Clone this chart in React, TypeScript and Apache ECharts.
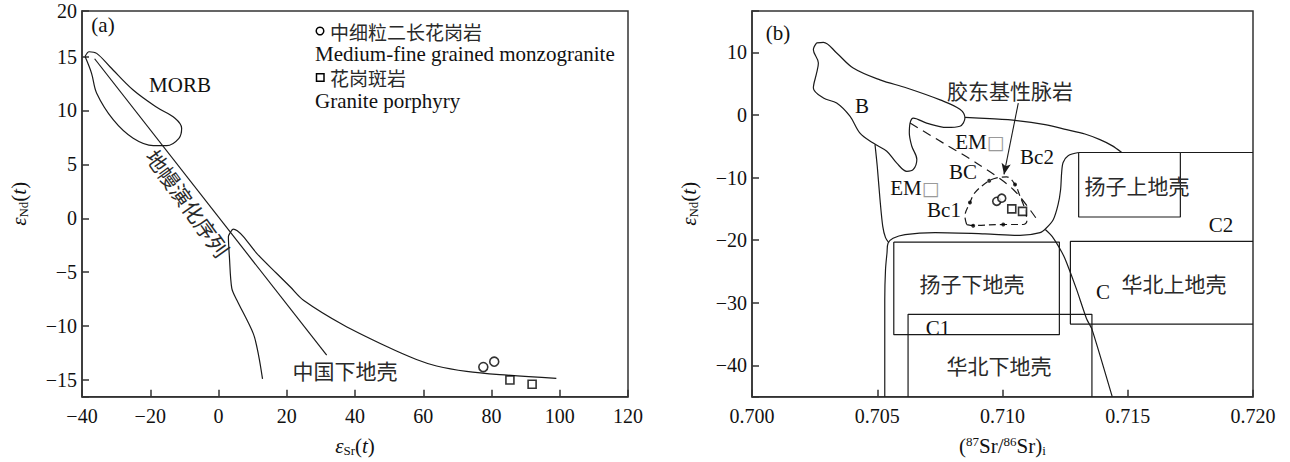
import React, { useEffect, useRef } from 'react';
import * as echarts from 'echarts';

// ---------- Panel (a): εNd(t) vs εSr(t) ----------
const morbField: number[][] = [
  [-39.1, 15.0], [-37.9, 15.45], [-35.7, 15.3], [-31.8, 14.06], [-25.0, 11.9], [-18.1, 10.3],
  [-12.75, 9.28], [-10.8, 8.35], [-11.6, 7.42], [-15.2, 6.74], [-19.1, 6.74], [-25.0, 7.42],
  [-30.8, 9.12], [-35.7, 11.6], [-37.2, 13.45], [-39.1, 15.0],
];
const mantleArray: number[][] = [[-36.3, 14.8], [31.7, -12.7]];
const lowerCrustCurve: number[][] = [
  [12.9, -14.9], [11.8, -12.8], [10.2, -10.7], [5.4, -7.6], [3.9, -6.5], [3.2, -3.6], [2.9, -1.7],
  [3.4, -1.35], [4.3, -1.0], [5.5, -1.15], [7.3, -1.7], [11.2, -3.25], [17.0, -5.1], [21.0, -6.35],
  [24.9, -7.6], [36.6, -9.9], [49.3, -11.9], [58.0, -13.1], [63.9, -13.7], [72.7, -14.2],
  [82.4, -14.5], [99.0, -14.85],
];
const esrMonzogranite = [77.6, 80.8];
const endMonzogranite = [-13.8, -13.3];
const esrPorphyry = [85.4, 91.9];
const endPorphyry = [-15.0, -15.4];

// ---------- Panel (b): εNd(t) vs (87Sr/86Sr)i ----------
const srMonzogranite = [0.70977, 0.70997];
const srPorphyry = [0.71037, 0.7108];

const fieldB: number[][] = [
  [0.70258, 11.5], [0.70285, 11.6], [0.70338, 9.9], [0.70404, 7.5], [0.70511, 5.6], [0.70618, 4.3],
  [0.70751, 2.4], [0.7083, 0.9], [0.7085, -0.5], [0.7083, -1.8], [0.70777, -2.0], [0.70697, -1.3],
  [0.70644, -0.5], [0.70631, -1.3], [0.70628, -2.9], [0.70638, -5.0], [0.70658, -7.1], [0.70644, -8.7],
  [0.70618, -9.0], [0.70578, -7.7], [0.70538, -5.8], [0.70484, -4.5], [0.70431, -2.9], [0.70391, -0.2],
  [0.70338, 1.9], [0.70285, 2.7], [0.70245, 4.3], [0.70258, 6.7], [0.70265, 8.3], [0.70245, 10.4],
  [0.70258, 11.5],
];
const envelopeTop: number[][] = [
  [0.7085, -0.4], [0.7095, -0.6], [0.71057, -0.9], [0.7117, -1.55], [0.71256, -2.35], [0.71329, -3.05],
  [0.71389, -3.95], [0.71437, -4.9], [0.71476, -6.0],
];
const envelopeRight: number[][] = [
  [0.71304, -6.0], [0.71262, -6.5], [0.71242, -7.6], [0.71236, -9.25], [0.71232, -11.9], [0.71222, -14.3],
  [0.71203, -16.7], [0.71174, -18.1], [0.7115, -18.8], [0.7107, -19.25], [0.7093, -19.0], [0.70731, -18.8],
  [0.70611, -19.1], [0.70563, -19.7], [0.70543, -20.5], [0.70539, -22.0], [0.70533, -24.7],
  [0.7053, -29.5], [0.7053, -45],
];
const envelopeLeft: number[][] = [
  [0.70491, -4.7], [0.705, -8.2], [0.70511, -13.5], [0.70522, -17.8], [0.70533, -19.6], [0.70546, -20.4],
];
const crustRightEdge: number[][] = [
  [0.71171, -18.3], [0.71198, -19.4], [0.71238, -22.0], [0.71256, -23.6], [0.71296, -27.9],
  [0.71336, -32.6], [0.71357, -34.2], [0.71438, -45],
];
const yangtzeUpper: number[][] = [[0.71304, -6.0], [0.7171, -6.0], [0.7171, -16.3], [0.71304, -16.3], [0.71304, -6.0]];
const c2Line: number[][] = [[0.7171, -6.0], [0.72, -6.0]];
const northChinaUpper: number[][] = [[0.72, -20.2], [0.71271, -20.2], [0.71271, -33.4], [0.72, -33.4]];
const yangtzeLower: number[][] = [[0.70566, -20.3], [0.71227, -20.3], [0.71227, -35.1], [0.70566, -35.1], [0.70566, -20.3]];
const northChinaLower: number[][] = [[0.70623, -45], [0.70623, -31.85], [0.71357, -31.85], [0.71357, -45]];
const emDivider: number[][] = [[0.70631, -1.3], [0.70764, -4.5], [0.70897, -7.7], [0.71043, -11.9], [0.71143, -17.0]];
const bcField: number[][] = [
  [0.70857, -17.5], [0.7085, -16.2], [0.7087, -14.0], [0.7089, -12.4], [0.70943, -10.6], [0.70977, -10.05],
  [0.71017, -9.9], [0.7105, -11.1], [0.7107, -13.0], [0.7109, -15.1], [0.71097, -17.0], [0.71083, -17.5],
  [0.71003, -17.5], [0.70883, -17.65], [0.70857, -17.5],
];
const bcDots: number[][] = [[0.7087, -14.0], [0.70947, -10.5], [0.7105, -11.1], [0.71003, -17.5], [0.70883, -17.7]];
const arrowFrom = [0.71063, 1.9];
const arrowTo = [0.71006, -9.5];

const xTicksA = { min: -40, max: 120, interval: 20 };
const yRangeA = { min: -16.55, max: 19.23 };
const xTicksB = { min: 0.7, max: 0.72, interval: 0.005 };
const yRangeB = { min: -45, max: 16.6 };

const SERIF = '"Liberation Serif", "Times New Roman", serif';
const CJK = '"Noto Sans CJK SC", sans-serif';
const INK = '#1a1a1a';

const minus = (v: number | string) => String(v).replace('-', '\u2212');

function curve(data: number[][], idx: number, extra: any = {}) {
  return {
    type: 'line',
    xAxisIndex: idx,
    yAxisIndex: idx,
    data,
    symbol: 'none',
    showSymbol: false,
    silent: true,
    lineStyle: { color: INK, width: 1.2 },
    z: 3,
    ...extra,
  };
}

function scatter(data: number[][], idx: number, symbol: string, size: number, extra: any = {}) {
  return {
    type: 'scatter',
    xAxisIndex: idx,
    yAxisIndex: idx,
    data,
    symbol,
    symbolSize: size,
    silent: true,
    itemStyle: { color: '#fff', borderColor: '#000', borderWidth: 1.6 },
    z: 5,
    ...extra,
  };
}

function label(text: string, x: number, y: number, cjk = false, extra: any = {}, rotation = 0) {
  return {
    type: 'text',
    x,
    y,
    rotation,
    silent: true,
    z: 10,
    style: {
      text,
      font: cjk ? `21px ${CJK}` : `21px ${SERIF}`,
      fill: cjk ? '#2a2a2a' : '#111',
      align: 'center',
      verticalAlign: 'middle',
      ...extra,
    },
  };
}

function emLabel(x: number, y: number) {
  return {
    type: 'text',
    x,
    y,
    silent: true,
    z: 10,
    style: {
      text: 'EM{g|\u25A1}',
      font: `21px ${SERIF}`,
      fill: '#111',
      align: 'center',
      verticalAlign: 'middle',
      rich: { g: { fill: '#9a9a9a', color: '#9a9a9a', font: `19px "DejaVu Sans", sans-serif` } },
    },
  };
}

const axisLabelStyle = { fontFamily: SERIF, fontSize: 20, color: '#111' };
const axisLineStyle = { show: true, onZero: false, lineStyle: { color: '#333', width: 1.5 } };
const tickStyle = { show: true, inside: true, length: 7, lineStyle: { color: '#333', width: 1.5 } };

const nameRich = {
  e: { fontFamily: SERIF, fontStyle: 'italic', fontSize: 21, lineHeight: 22, color: '#111' },
  n: { fontFamily: SERIF, fontSize: 21, lineHeight: 22, color: '#111' },
  s: { fontFamily: SERIF, fontSize: 13, lineHeight: 11, verticalAlign: 'bottom', color: '#111' },
  u: { fontFamily: SERIF, fontSize: 13, lineHeight: 13, verticalAlign: 'top', color: '#111' },
};

export default function App() {
  const ref = useRef<HTMLDivElement>(null);

  useEffect(() => {
    if (!ref.current) return;
    const chart = echarts.init(ref.current, null, { renderer: 'svg' });

    const option: any = {
      animation: false,
      backgroundColor: '#fff',
      grid: [
        { left: 82, top: 11, width: 546, height: 385.7, show: true, borderColor: '#333', borderWidth: 1.5, backgroundColor: 'transparent', outerBoundsMode: 'none' },
        { left: 752, top: 11, width: 501, height: 385.7, show: true, borderColor: '#333', borderWidth: 1.5, backgroundColor: 'transparent', outerBoundsMode: 'none' },
      ],
      xAxis: [
        {
          type: 'value', gridIndex: 0, ...xTicksA,
          axisLine: axisLineStyle, axisTick: tickStyle, splitLine: { show: false },
          axisLabel: { ...axisLabelStyle, margin: 9, formatter: (v: number) => minus(v) },
          name: '{e|ε}{s|Sr}{n|(}{e|t}{n|)}', nameLocation: 'middle', nameGap: 38,
          nameTextStyle: { rich: nameRich },
        },
        {
          type: 'value', gridIndex: 1, ...xTicksB,
          axisLine: axisLineStyle, axisTick: tickStyle, splitLine: { show: false },
          axisLabel: { ...axisLabelStyle, margin: 9, formatter: (v: number) => v.toFixed(3) },
          name: '{n|(}{u|87}{n|Sr/}{u|86}{n|Sr)}{s|i}', nameLocation: 'middle', nameGap: 38,
          nameTextStyle: { rich: nameRich },
        },
      ],
      yAxis: [
        {
          type: 'value', gridIndex: 0, ...yRangeA, splitNumber: 7,
          axisLine: axisLineStyle, axisTick: tickStyle, splitLine: { show: false },
          axisLabel: {
            ...axisLabelStyle, margin: 5,
            formatter: (v: number) => (v > 19 ? '20' : v < -16 ? '' : minus(v)),
          },
          name: '{e|ε}{s|Nd}{n|(}{e|t}{n|)}', nameLocation: 'middle', nameRotate: 90, nameGap: 52,
          nameTextStyle: { rich: nameRich },
        },
        {
          type: 'value', gridIndex: 1, ...yRangeB,
          axisLine: axisLineStyle, axisTick: tickStyle, splitLine: { show: false },
          axisLabel: {
            ...axisLabelStyle, margin: 5,
            formatter: (v: number) => (v > 11 || v < -44 ? '' : minus(v)),
          },
          name: '{e|ε}{s|Nd}{n|(}{e|t}{n|)}', nameLocation: 'middle', nameRotate: 90, nameGap: 52,
          nameTextStyle: { rich: nameRich },
        },
      ],
      series: [
        // panel (a)
        curve(morbField, 0, { smooth: 0.35 }),
        curve(mantleArray, 0),
        curve(lowerCrustCurve, 0, { smooth: 0.3 }),
        scatter(esrMonzogranite.map((x, i) => [x, endMonzogranite[i]]), 0, 'circle', 9),
        scatter(esrPorphyry.map((x, i) => [x, endPorphyry[i]]), 0, 'rect', 8),
        // panel (b)
        curve(fieldB, 1, { smooth: 0.35 }),
        curve(envelopeTop, 1, { smooth: 0.3 }),
        curve(envelopeRight, 1, { smooth: 0.3 }),
        curve(envelopeLeft, 1, { smooth: 0.3 }),
        curve(crustRightEdge, 1, { smooth: 0.2 }),
        curve(yangtzeUpper, 1),
        curve(c2Line, 1),
        curve(northChinaUpper, 1),
        curve(yangtzeLower, 1),
        curve(northChinaLower, 1),
        curve(emDivider, 1, {
          smooth: 0.3,
          lineStyle: { color: INK, width: 1.2, type: [9, 6] },
          markLine: {
            silent: true,
            symbol: ['none', 'arrow'],
            symbolSize: [7, 11],
            label: { show: false },
            lineStyle: { color: INK, width: 1.1, type: 'solid' },
            data: [[{ coord: arrowFrom }, { coord: arrowTo }]],
          },
        }),
        curve(bcField, 1, { smooth: 0.35, lineStyle: { color: INK, width: 1.2, type: [7, 4] } }),
        scatter(bcDots, 1, 'circle', 4, { itemStyle: { color: '#000' } }),
        scatter(srMonzogranite.map((x, i) => [x, endMonzogranite[i]]), 1, 'circle', 8),
        scatter(srPorphyry.map((x, i) => [x, endPorphyry[i]]), 1, 'rect', 8),
      ],
      graphic: [
        // panel (a) texts
        label('(a)', 103, 25),
        label('MORB', 180, 85),
        label('地幔演化序列', 188, 203, true, {}, -0.95),
        label('中国下地壳', 345, 370, true),
        // legend
        { type: 'circle', silent: true, z: 10, shape: { cx: 320, cy: 31, r: 3.8 }, style: { fill: '#fff', stroke: '#000', lineWidth: 1.5 } },
        label('中细粒二长花岗岩', 330, 31, true, { align: 'left', font: `19px ${CJK}`, lineHeight: 17 }),
        label('Medium-fine grained monzogranite', 315, 54, false, { align: 'left', lineHeight: 17 }),
        { type: 'rect', silent: true, z: 10, shape: { x: 316.5, y: 73.7, width: 7.5, height: 7.5 }, style: { fill: '#fff', stroke: '#000', lineWidth: 1.5 } },
        label('花岗斑岩', 330, 77.5, true, { align: 'left', font: `19px ${CJK}`, lineHeight: 17 }),
        label('Granite porphyry', 315, 100.5, false, { align: 'left', lineHeight: 17 }),
        // panel (b) texts
        label('(b)', 778, 33),
        label('B', 862, 106),
        label('胶东基性脉岩', 1010, 90, true),
        emLabel(980, 142),
        label('Bc2', 1037, 157),
        label('BC', 963, 172),
        emLabel(915, 188),
        label('Bc1', 944, 210),
        label('扬子上地壳', 1137, 185, true),
        label('C2', 1221, 225),
        label('扬子下地壳', 972, 283, true),
        label('C', 1103, 292),
        label('华北上地壳', 1174, 283, true),
        label('C1', 938, 328),
        label('华北下地壳', 999, 365, true),
      ],
    };

    chart.setOption(option);
    return () => chart.dispose();
  }, []);

  return (
    <div
      ref={ref}
      style={{ position: 'absolute', left: 0, top: 0, width: 1290, height: 462, background: '#fff' }}
    />
  );
}
